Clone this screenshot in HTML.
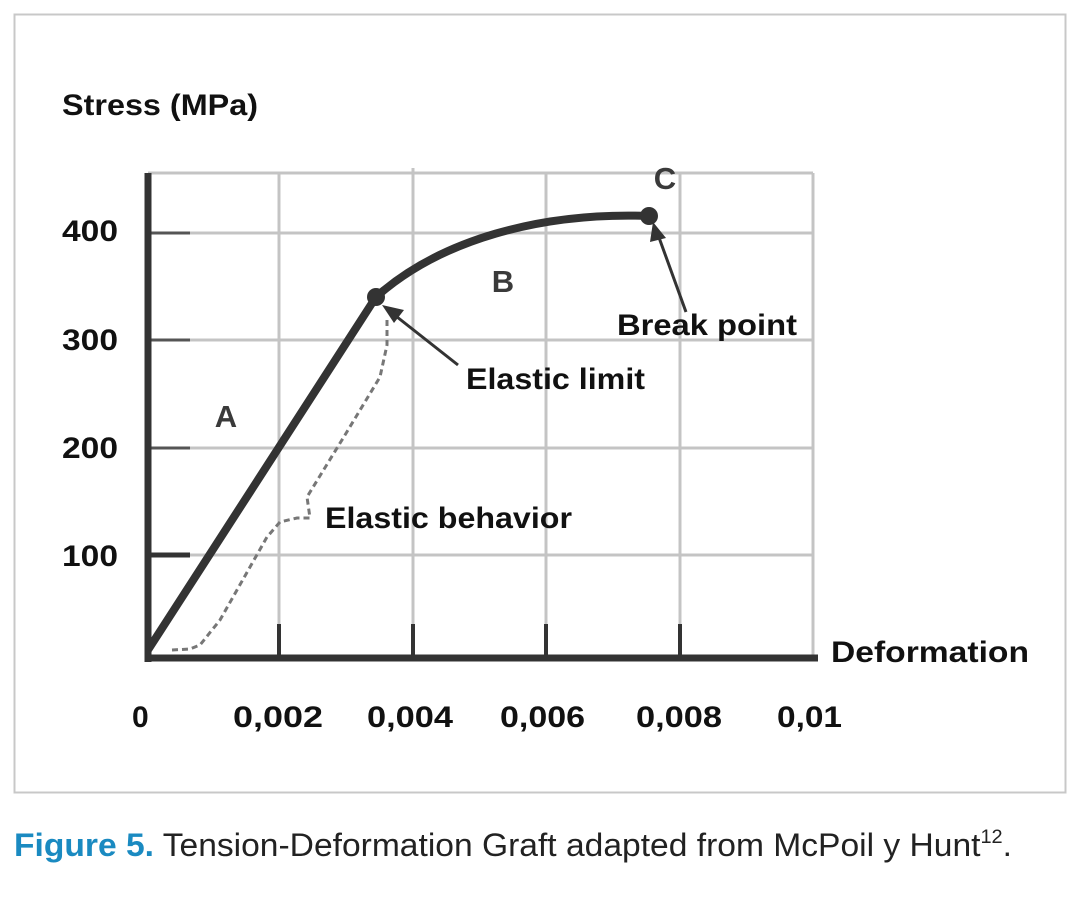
<!DOCTYPE html>
<html><head><meta charset="utf-8"><style>
html,body{margin:0;padding:0;background:#fff;}
body{width:1082px;height:914px;position:relative;overflow:hidden;font-family:"Liberation Sans",sans-serif;}
</style></head><body>
<svg width="1082" height="914" viewBox="0 0 1082 914" style="position:absolute;left:0;top:0">
<rect x="14.5" y="14.5" width="1051" height="778" fill="none" stroke="#c8c8c8" stroke-width="2"/>
<g stroke="#c4c4c4" stroke-width="3">
<line x1="148" y1="173" x2="813" y2="173"/>
<line x1="148" y1="233" x2="813" y2="233"/>
<line x1="148" y1="340" x2="813" y2="340"/>
<line x1="148" y1="448" x2="813" y2="448"/>
<line x1="148" y1="555" x2="813" y2="555"/>
<line x1="279" y1="173" x2="279" y2="658"/>
<line x1="413" y1="168" x2="413" y2="658"/>
<line x1="546" y1="173" x2="546" y2="658"/>
<line x1="680" y1="173" x2="680" y2="658"/>
<line x1="813" y1="173" x2="813" y2="658"/>
</g>
<g stroke="#555" stroke-width="3">
<line x1="148" y1="233" x2="190" y2="233"/>
<line x1="148" y1="340" x2="190" y2="340"/>
<line x1="148" y1="448" x2="190" y2="448"/>
</g>
<line x1="148" y1="555" x2="190" y2="555" stroke="#333" stroke-width="5"/>
<g stroke="#333" stroke-width="4">
<line x1="279" y1="624" x2="279" y2="658"/>
<line x1="413" y1="624" x2="413" y2="658"/>
<line x1="546" y1="624" x2="546" y2="658"/>
<line x1="680" y1="624" x2="680" y2="658"/>
</g>
<line x1="148" y1="173" x2="148" y2="662" stroke="#333" stroke-width="7"/>
<line x1="145" y1="658" x2="818" y2="658" stroke="#333" stroke-width="7"/>
<polyline points="172,650 190,649 200,645 220,620 267,537 280,522 297,518 310,518 307,497 345,435 380,377 387,345 387,317" fill="none" stroke="#777" stroke-width="3" stroke-dasharray="6,4"/>
<path d="M148,650 L376,297 C440,240 540,212 649,216" fill="none" stroke="#333" stroke-width="8"/>
<circle cx="376" cy="297" r="9" fill="#333"/>
<circle cx="649" cy="216" r="9" fill="#333"/>
<g stroke="#333" stroke-width="3">
<line x1="458" y1="365" x2="392" y2="313"/>
<line x1="686" y1="312" x2="657" y2="232"/>
</g>
<polygon points="382,305 404,310 394,323" fill="#333"/>
<polygon points="653,222 666,238 650,242" fill="#333"/>
<g font-weight="bold" fill="#111" font-size="30" lengthAdjust="spacingAndGlyphs">
<text x="62" y="115" textLength="196" lengthAdjust="spacingAndGlyphs">Stress (MPa)</text>
<text x="62" y="241" textLength="56" lengthAdjust="spacingAndGlyphs">400</text>
<text x="62" y="350" textLength="56" lengthAdjust="spacingAndGlyphs">300</text>
<text x="62" y="458" textLength="56" lengthAdjust="spacingAndGlyphs">200</text>
<text x="62" y="566" textLength="56" lengthAdjust="spacingAndGlyphs">100</text>
<text x="132" y="727">0</text>
<text x="233" y="727" textLength="90" lengthAdjust="spacingAndGlyphs">0,002</text>
<text x="367" y="727" textLength="86" lengthAdjust="spacingAndGlyphs">0,004</text>
<text x="500" y="727" textLength="85" lengthAdjust="spacingAndGlyphs">0,006</text>
<text x="636" y="727" textLength="86" lengthAdjust="spacingAndGlyphs">0,008</text>
<text x="777" y="727" textLength="65" lengthAdjust="spacingAndGlyphs">0,01</text>
<text x="831" y="662" textLength="198" lengthAdjust="spacingAndGlyphs">Deformation</text>
<text x="466" y="389" textLength="179" lengthAdjust="spacingAndGlyphs">Elastic limit</text>
<text x="617" y="335" textLength="180" lengthAdjust="spacingAndGlyphs">Break point</text>
<text x="325" y="528" textLength="247" lengthAdjust="spacingAndGlyphs">Elastic behavior</text>
</g>
<g font-weight="bold" fill="#3a3a3a" font-size="31" text-anchor="middle">
<text x="226" y="427">A</text>
<text x="503" y="292">B</text>
<text x="665" y="189">C</text>
</g>
<text x="14" y="856" font-size="32" fill="#222" textLength="998" lengthAdjust="spacingAndGlyphs"><tspan fill="#1a8ac1" font-weight="bold">Figure 5.</tspan> Tension-Deformation Graft adapted from McPoil y Hunt<tspan font-size="19" dy="-13">12</tspan><tspan dy="13">.</tspan></text>
</svg>
</body></html>
